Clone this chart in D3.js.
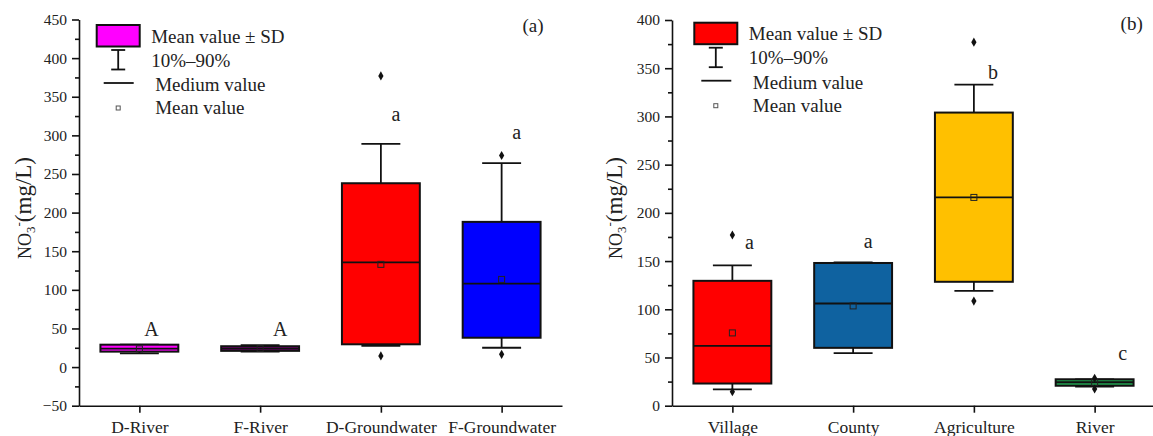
<!DOCTYPE html>
<html>
<head>
<meta charset="utf-8">
<script src="https://cdn.jsdelivr.net/npm/d3@7.9.0/dist/d3.min.js"></script>
<style>
  body { margin: 0; background: #fff; }
</style>
</head>
<body>
<svg id="chart" width="1153" height="436"></svg>
<script>
// ---- panel (a) ----
const categoriesA = ['D-River', 'F-River', 'D-Groundwater', 'F-Groundwater'];
const boxLowA = [20, 21, 29.5, 38];
const boxHighA = [29, 27, 238, 188];
const whiskerLowA = [17.7, 20, 27.5, 25];
const whiskerHighA = [29, 28.5, 289, 264];
const medianA = [24, 24, 135.5, 108];
const meanA = [23.5, 24, 133, 113.5];
const outlierMaxA = [null, null, 377, 274];
const outlierMinA = [null, null, 14.5, 16.5];
const lettersA = ['A', 'A', 'a', 'a'];
const letterAtA = [40, 40, 318, 295];
const colorsA = ['#ff00ff', '#7a007a', '#ff0000', '#0000ff'];

// ---- panel (b) ----
const categoriesB = ['Village', 'County', 'Agriculture', 'River'];
const boxLowB = [23, 60, 128.5, 20.7];
const boxHighB = [129.5, 148, 304, 27.4];
const whiskerLowB = [17, 54.5, 119, 19.7];
const whiskerHighB = [145.5, 148.5, 333, 27.4];
const medianB = [62, 106, 216, 24.3];
const meanB = [75.5, 103.5, 216, 24];
const outlierMaxB = [177, null, 377, 28.4];
const outlierMinB = [14.5, null, 108.5, 17.3];
const lettersB = ['a', 'a', 'b', 'c'];
const letterAtB = [162, 163.5, 339, 47];
const colorsB = ['#ff0000', '#0f62a0', '#ffc000', '#22a352'];

const FONT = '"Liberation Serif", Tinos, "Times New Roman", Times, serif';

const svg = d3.select('#chart');
svg.append('rect').attr('width', 1153).attr('height', 436).attr('fill', '#fff');

function styleText(sel, size) {
  sel.attr('font-family', FONT).style('font-family', FONT)
    .style('font-size', size + 'px').attr('fill', '#222');
}

function drawPanel(p) {
  const g = svg.append('g');
  const y = d3.scaleLinear().domain(p.yDomain).range([405.7, p.yTop]);
  const x = d3.scalePoint().domain(p.categories).range([p.x0, p.x1]).padding(0.5);
  const boxW = x.step() * 0.645;

  // y axis
  const yAxis = g.append('g').attr('transform', `translate(${p.x0},0)`)
    .call(d3.axisLeft(y).tickValues(d3.range(p.yDomain[0], p.yDomain[1] + 1, 50))
      .tickSize(7).tickPadding(5).tickSizeOuter(0));
  styleText(yAxis.selectAll('text'), 15.5);
  g.append('g').attr('transform', `translate(${p.x0},0)`)
    .call(d3.axisLeft(y).tickValues(d3.range(p.yDomain[0] + 25, p.yDomain[1], 50))
      .tickSize(4).tickFormat('').tickSizeOuter(0))
    .select('.domain').remove();

  // x axis
  const xAxis = g.append('g').attr('transform', 'translate(0,405.7)')
    .call(d3.axisBottom(x).tickSize(7).tickPadding(8).tickSizeOuter(0));
  styleText(xAxis.selectAll('text'), 17.5);
  g.selectAll('.domain, .tick line').attr('stroke', '#111').attr('stroke-width', 1.6);

  p.categories.forEach((c, i) => {
    const cx = x(c);
    // whiskers
    g.append('line').attr('x1', cx).attr('x2', cx)
      .attr('y1', y(p.whiskerHigh[i])).attr('y2', y(p.whiskerLow[i]))
      .attr('stroke', '#111').attr('stroke-width', 1.8);
    [p.whiskerHigh[i], p.whiskerLow[i]].forEach((v) => {
      g.append('line').attr('x1', cx - boxW / 4).attr('x2', cx + boxW / 4)
        .attr('y1', y(v)).attr('y2', y(v))
        .attr('stroke', '#111').attr('stroke-width', 1.8);
    });
    // box
    g.append('rect').attr('x', cx - boxW / 2).attr('width', boxW)
      .attr('y', y(p.boxHigh[i])).attr('height', y(p.boxLow[i]) - y(p.boxHigh[i]))
      .attr('fill', p.colors[i]).attr('stroke', '#111').attr('stroke-width', 2);
    // median
    g.append('line').attr('x1', cx - boxW / 2).attr('x2', cx + boxW / 2)
      .attr('y1', y(p.median[i])).attr('y2', y(p.median[i]))
      .attr('stroke', '#111').attr('stroke-width', 1.8);
    // mean
    g.append('rect').attr('x', cx - 3).attr('y', y(p.mean[i]) - 3)
      .attr('width', 6).attr('height', 6)
      .attr('fill', 'none').attr('stroke', '#222').attr('stroke-width', 1);
    // outliers
    [p.outlierMax[i], p.outlierMin[i]].forEach((v) => {
      if (v == null) return;
      g.append('path').attr('d', d3.symbol(d3.symbolDiamond, 24)())
        .attr('transform', `translate(${cx},${y(v)})`).attr('fill', '#111');
    });
    // letters
    styleText(g.append('text').attr('x', cx + p.letterNudge[i]).attr('y', y(p.letterAt[i]))
      .attr('text-anchor', 'middle').text(p.letters[i]), 20);
  });

  // y axis title
  const t = g.append('text')
    .attr('transform', `translate(${p.titleX},208) rotate(-90)`)
    .attr('text-anchor', 'middle');
  styleText(t, 18);
  t.append('tspan').text('NO');
  t.append('tspan').attr('dy', 4).style('font-size', '13px').text('3');
  t.append('tspan').attr('dy', -12).style('font-size', '13px').text('-');
  t.append('tspan').attr('dy', 8).style('font-size', '23px').text('(mg/L)');

  // panel label
  styleText(g.append('text').attr('x', p.labelX).attr('y', p.labelY)
    .attr('text-anchor', 'middle').text(p.label), 19);

  // legend
  const L = g.append('g').attr('transform', `translate(${p.legX},${p.legY})`);
  L.append('rect').attr('width', 43).attr('height', 21.5)
    .attr('fill', p.colors[0]).attr('stroke', '#111').attr('stroke-width', 2);
  L.append('line').attr('x1', 21.5).attr('x2', 21.5).attr('y1', 25).attr('y2', 44.5)
    .attr('stroke', '#111').attr('stroke-width', 1.8);
  [25, 44.5].forEach((yy) => {
    L.append('line').attr('x1', 14.5).attr('x2', 28.5).attr('y1', yy).attr('y2', yy)
      .attr('stroke', '#111').attr('stroke-width', 1.8);
  });
  L.append('line').attr('x1', 7).attr('x2', 37).attr('y1', 58).attr('y2', 58)
    .attr('stroke', '#111').attr('stroke-width', 1.8);
  L.append('rect').attr('x', 19.5).attr('y', 81).attr('width', 4).attr('height', 4)
    .attr('fill', 'none').attr('stroke', '#555').attr('stroke-width', 1);
  const legendTexts = ['Mean value \u00b1 SD', '10%\u201390%', 'Medium value', 'Mean value'];
  const legendBase = [17.5, 41.5, 66, 89];
  legendTexts.forEach((s, i) => {
    styleText(L.append('text').attr('x', i < 2 ? 54.5 : 58.5).attr('y', legendBase[i]).text(s), 19);
  });
}

drawPanel({
  categories: categoriesA, boxLow: boxLowA, boxHigh: boxHighA,
  whiskerLow: whiskerLowA, whiskerHigh: whiskerHighA, median: medianA, mean: meanA,
  outlierMax: outlierMaxA, outlierMin: outlierMinA, letters: lettersA, letterAt: letterAtA,
  colors: colorsA, yDomain: [-50, 450], yTop: 19.5, x0: 79, x1: 562,
  letterNudge: [12, 20, 15, 15], titleX: 31, label: '(a)', labelX: 533, labelY: 31.5,
  legX: 96.7, legY: 25,
});
drawPanel({
  categories: categoriesB, boxLow: boxLowB, boxHigh: boxHighB,
  whiskerLow: whiskerLowB, whiskerHigh: whiskerHighB, median: medianB, mean: meanB,
  outlierMax: outlierMaxB, outlierMin: outlierMinB, letters: lettersB, letterAt: letterAtB,
  colors: colorsB, yDomain: [0, 400], yTop: 20, x0: 672, x1: 1155,
  letterNudge: [17, 15, 19, 28], titleX: 622, label: '(b)', labelX: 1131.7, labelY: 30,
  legX: 694.3, legY: 22.7,
});
</script>
</body>
</html>
